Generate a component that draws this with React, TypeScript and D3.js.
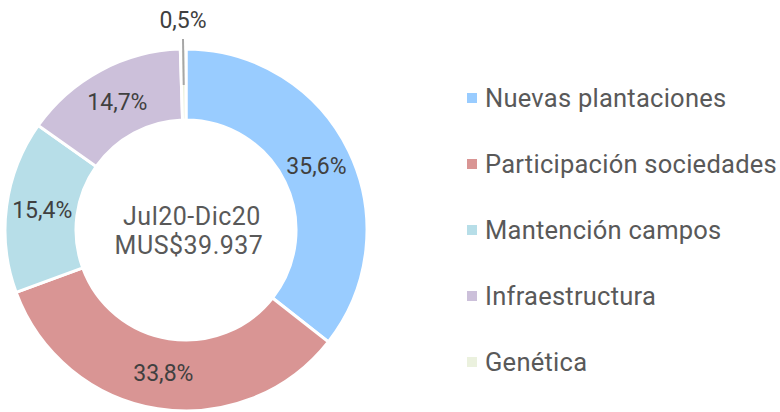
import React from "react";
import * as d3 from "d3";

const categories = ["Nuevas plantaciones", "Participación sociedades", "Mantención campos", "Infraestructura", "Genética"];
const values = [35.6, 33.8, 15.4, 14.7, 0.5];
const valueLabels = ["35,6%", "33,8%", "15,4%", "14,7%", "0,5%"];
const colors = ["#99CCFF", "#D99594", "#B7DEE8", "#CCC0DA", "#EBF1DE"];
const centerLines = ["Jul20-Dic20", "MUS$39.937"];

const W = 780;
const H = 412;
const FONT = "Roboto, 'Open Sans', sans-serif";

export default function App() {
  const cx = 186;
  const cy = 230;
  const outerR = 181;
  const innerR = 110;
  const pie = d3.pie<number>().sort(null).value((d) => d);
  const arcs = pie(values);
  const arc = d3.arc<d3.PieArcDatum<number>>().innerRadius(innerR).outerRadius(outerR);
  const labelArc = d3.arc<d3.PieArcDatum<number>>().innerRadius(145).outerRadius(145);

  const legendY = d3.scalePoint<string>().domain(categories).range([98, 362]);

  return (
    <svg width={W} height={H} style={{ position: "absolute", left: 0, top: 0, background: "#fff" }}>
      <g transform={`translate(${cx},${cy})`}>
        {arcs.map((a, i) => (
          <path key={i} d={arc(a) || ""} fill={colors[i]} stroke="#fff" strokeWidth={3} />
        ))}
        {arcs.map((a, i) => {
          const [lx, ly] = labelArc.centroid(a);
          if (i === arcs.length - 1) {
            const mid = (a.startAngle + a.endAngle) / 2;
            const x0 = Math.sin(mid) * 145;
            const y0 = -Math.cos(mid) * 145;
            const x1 = Math.sin(mid) * 191;
            const y1 = -Math.cos(mid) * 191;
            return (
              <g key={i}>
                <line x1={x0} y1={y0} x2={x1} y2={y1} stroke="#A6A6A6" strokeWidth={2} />
                <text x={x1} y={y1 - 19} textAnchor="middle" dominantBaseline="central" fontFamily={FONT} fontSize={23} fill="#404040">
                  {valueLabels[i]}
                </text>
              </g>
            );
          }
          return (
            <text key={i} x={lx} y={ly} textAnchor="middle" dominantBaseline="central" fontFamily={FONT} fontSize={23} fill="#404040">
              {valueLabels[i]}
            </text>
          );
        })}
        {centerLines.map((t, i) => (
          <text key={t} x={i === 0 ? 6 : 3} y={-5 + i * 29} textAnchor="middle" fontFamily={FONT} fontSize={25} letterSpacing={0.5} fill="#595959">
            {t}
          </text>
        ))}
      </g>
      {categories.map((c, i) => (
        <g key={c} transform={`translate(0,${legendY(c)})`}>
          <rect x={467} y={-5} width={10} height={10} fill={colors[i]} />
          <text x={485} y={9} fontFamily={FONT} fontSize={25.5} letterSpacing={0.25} fill="#595959">
            {c}
          </text>
        </g>
      ))}
    </svg>
  );
}
